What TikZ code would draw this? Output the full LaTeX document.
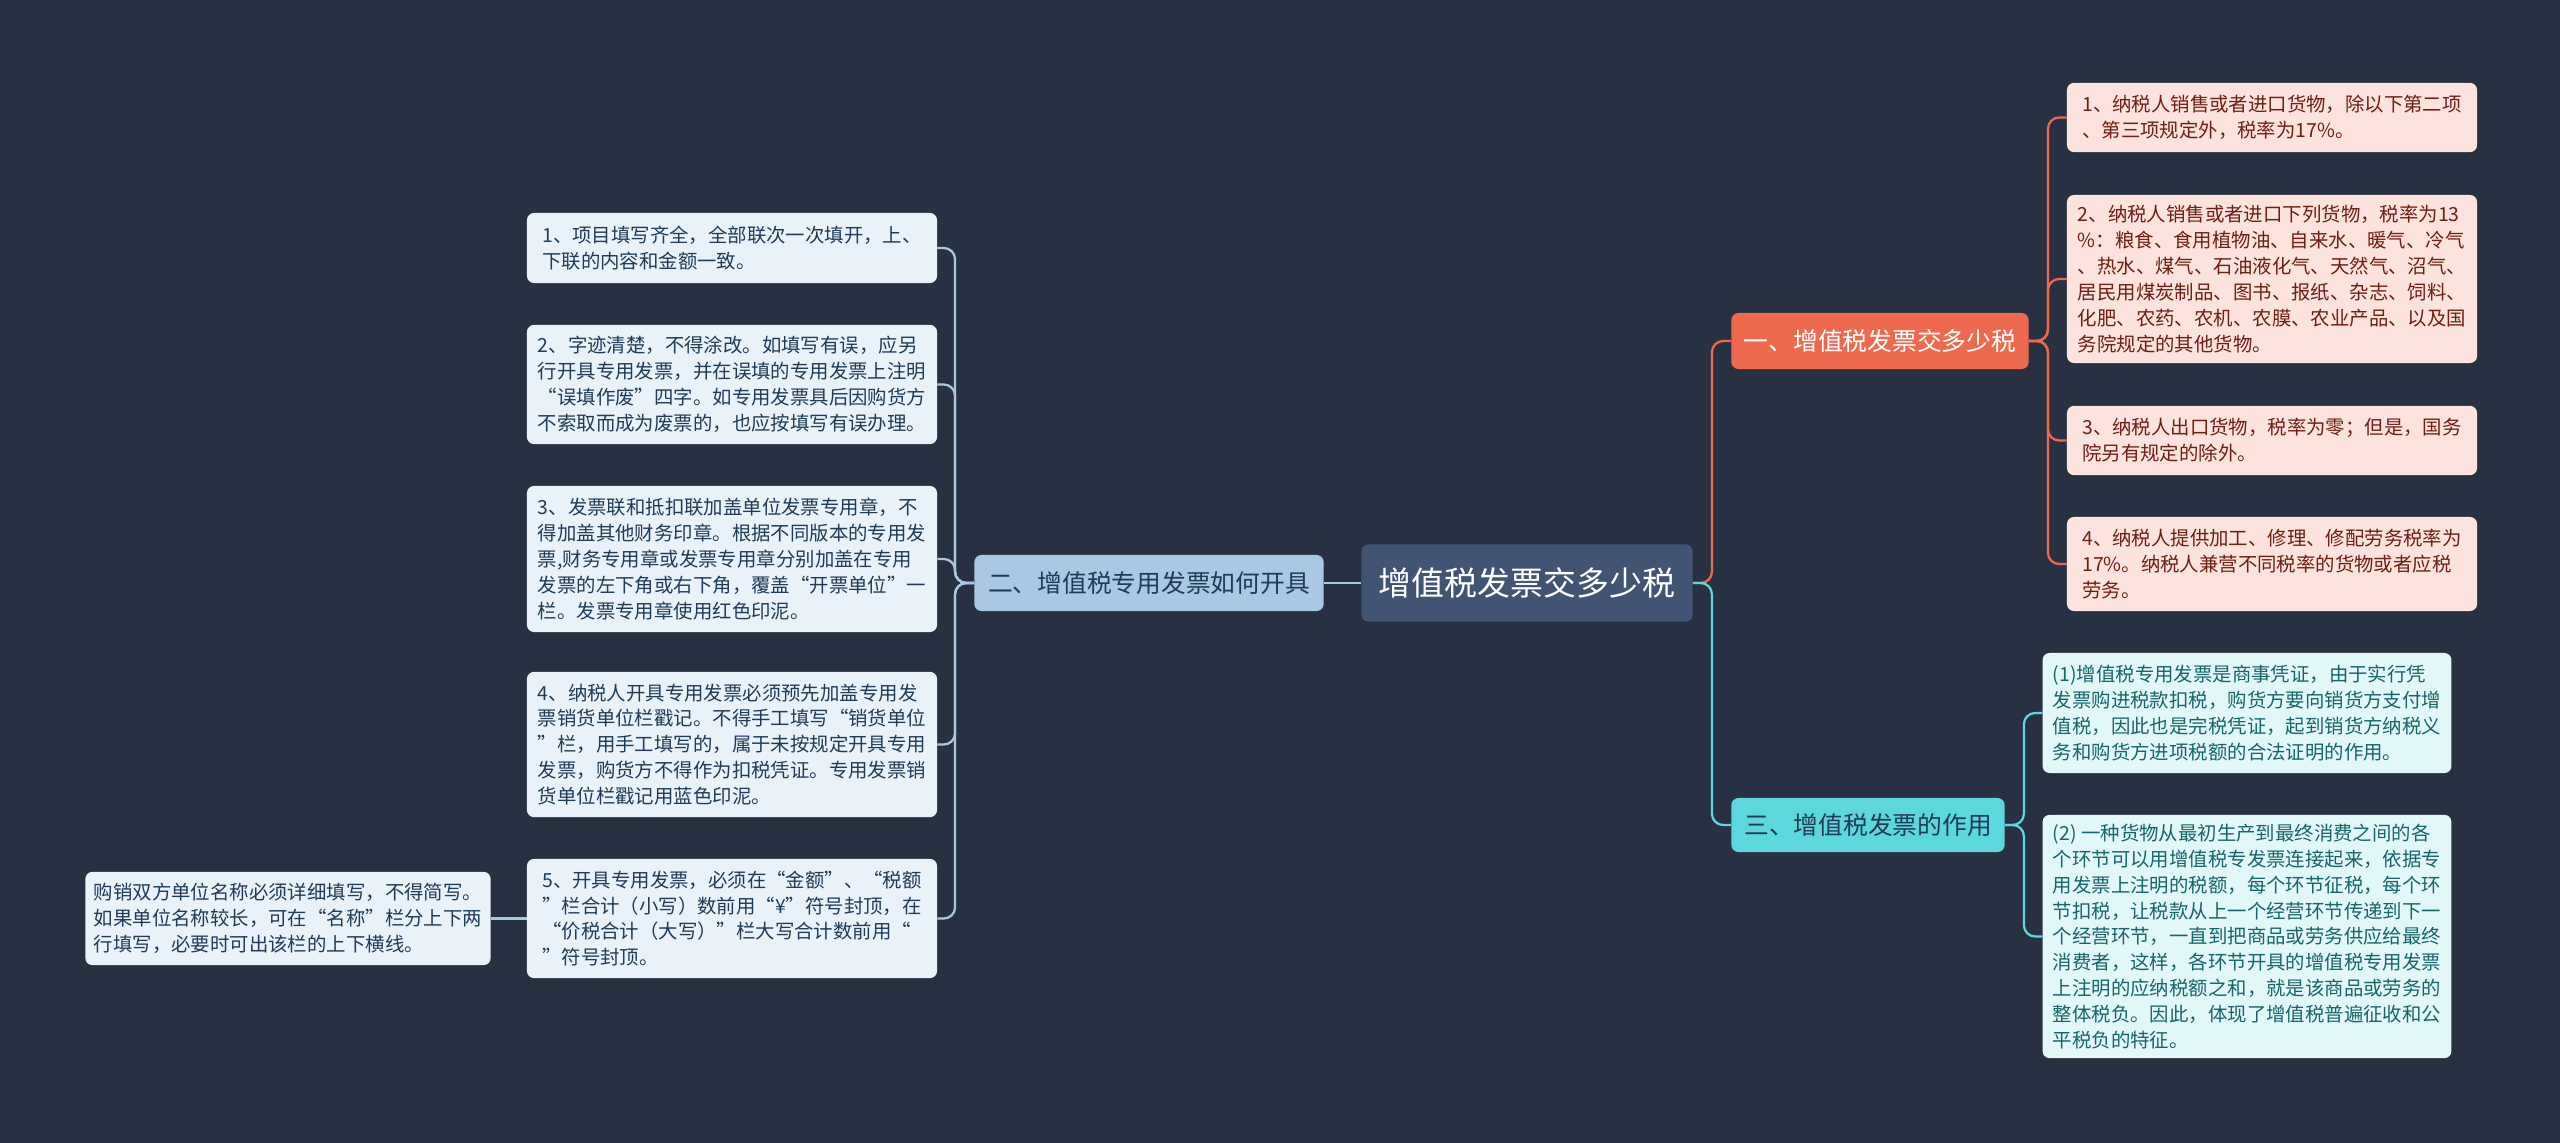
\documentclass[tikz,border=0pt]{standalone}
\usepackage{fontspec}
\setmainfont{Noto Sans CJK SC}
\usetikzlibrary{positioning}

\definecolor{bgdark}{HTML}{283142}
\definecolor{rootblue}{HTML}{415474}
\definecolor{coral}{HTML}{EE6A4F}
\definecolor{aqua}{HTML}{5CD7DE}
\definecolor{skyblue}{HTML}{A8C8E4}
\definecolor{pinkfill}{HTML}{FDE3DD}
\definecolor{pinktext}{HTML}{6E1E12}
\definecolor{aquafill}{HTML}{E2F7F8}
\definecolor{aquatext}{HTML}{17656A}
\definecolor{paleblue}{HTML}{EAF2F9}
\definecolor{bluetext}{HTML}{1F3B57}

\begin{document}
\begin{tikzpicture}[x=0.025cm, y=-0.025cm,
    box/.style = {rounded corners=5pt, align=left, inner xsep=0.2cm, inner ysep=0pt,
                  font=\fontsize{13.8pt}{18.4pt}\selectfont},
    redleaf/.style  = {box, fill=pinkfill, text=pinktext, minimum width=10.25cm},
    aqualeaf/.style = {box, fill=aquafill, text=aquatext, minimum width=10.22cm},
    blueleaf/.style = {box, fill=paleblue, text=bluetext, minimum width=10.25cm},
    topic/.style = {rounded corners=5pt, inner sep=0pt, font=\fontsize{17.6pt}{20pt}\selectfont},
    link/.style = {line width=1.6pt, rounded corners=8pt}]
    \fill[bgdark] (0,0) rectangle (2560,1143);
    \useasboundingbox (0,0) rectangle (2560,1143);

    % centre and main topics
    \node[topic, fill=rootblue, text=white, minimum width=8.28cm, minimum height=1.93cm,
          font=\fontsize{23.4pt}{26pt}\selectfont] (m_0) at (1527,583) {增值税发票交多少税};
    \node[topic, fill=coral, text=white, minimum width=7.43cm, minimum height=1.4cm]
          (k_1) at (1880,341) {一、增值税发票交多少税};
    \node[topic, fill=aqua, text=bluetext, minimum width=6.83cm, minimum height=1.35cm]
          (k_3) at (1868,825) {三、增值税发票的作用};
    \node[topic, fill=skyblue, text=bluetext, minimum width=8.73cm, minimum height=1.4cm]
          (k_2) at (1149,583) {二、增值税专用发票如何开具};

    % right, first topic
    \node[redleaf, minimum height=1.73cm] (r_1) at (2272,117.5)
        {1、纳税人销售或者进口货物，除以下第二项\\、第三项规定外，税率为17\%。};
    \node[redleaf, minimum height=4.2cm] (r_2) at (2272,279)
        {2、纳税人销售或者进口下列货物，税率为13\\\%：粮食、食用植物油、自来水、暖气、冷气\\、热水、煤气、石油液化气、天然气、沼气、\\居民用煤炭制品、图书、报纸、杂志、饲料、\\化肥、农药、农机、农膜、农业产品、以及国\\务院规定的其他货物。};
    \node[redleaf, minimum height=1.73cm] (r_3) at (2272,440.5)
        {3、纳税人出口货物，税率为零；但是，国务\\院另有规定的除外。};
    \node[redleaf, minimum height=2.35cm] (r_4) at (2272,564)
        {4、纳税人提供加工、修理、修配劳务税率为\\17\%。纳税人兼营不同税率的货物或者应税\\劳务。};

    % right, third topic
    \node[aqualeaf, minimum height=3cm] (c_1) at (2247,713)
        {(1)增值税专用发票是商事凭证，由于实行凭\\发票购进税款扣税，购货方要向销货方支付增\\值税，因此也是完税凭证，起到销货方纳税义\\务和购货方进项税额的合法证明的作用。};
    \node[aqualeaf, minimum height=6.08cm] (c_2) at (2247,936.5)
        {(2) 一种货物从最初生产到最终消费之间的各\\个环节可以用增值税专发票连接起来，依据专\\用发票上注明的税额，每个环节征税，每个环\\节扣税，让税款从上一个经营环节传递到下一\\个经营环节，一直到把商品或劳务供应给最终\\消费者，这样，各环节开具的增值税专用发票\\上注明的应纳税额之和，就是该商品或劳务的\\整体税负。因此，体现了增值税普遍征收和公\\平税负的特征。};

    % left, second topic
    \node[blueleaf, minimum height=1.75cm] (l_1) at (732,248)
        {1、项目填写齐全，全部联次一次填开，上、\\下联的内容和金额一致。};
    \node[blueleaf, minimum height=2.98cm] (l_2) at (732,384.5)
        {2、字迹清楚，不得涂改。如填写有误，应另\\行开具专用发票，并在误填的专用发票上注明\\“误填作废”四字。如专用发票具后因购货方\\不索取而成为废票的，也应按填写有误办理。};
    \node[blueleaf, minimum height=3.65cm] (l_3) at (732,559)
        {3、发票联和抵扣联加盖单位发票专用章，不\\得加盖其他财务印章。根据不同版本的专用发\\票,财务专用章或发票专用章分别加盖在专用\\发票的左下角或右下角，覆盖“开票单位”一\\栏。发票专用章使用红色印泥。};
    \node[blueleaf, minimum height=3.63cm] (l_4) at (732,744.5)
        {4、纳税人开具专用发票必须预先加盖专用发\\票销货单位栏戳记。不得手工填写“销货单位\\”栏，用手工填写的，属于未按规定开具专用\\发票，购货方不得作为扣税凭证。专用发票销\\货单位栏戳记用蓝色印泥。};
    \node[blueleaf, minimum height=2.98cm] (l_5) at (732,918.5)
        {5、开具专用发票，必须在“金额”、“税额\\”栏合计（小写）数前用“¥”符号封顶，在\\“价税合计（大写）”栏大写合计数前用“\\”符号封顶。};
    \node[blueleaf, minimum width=10.13cm, minimum height=2.33cm] (l_6) at (288,918.5)
        {购销双方单位名称必须详细填写，不得简写。\\如果单位名称较长，可在“名称”栏分上下两\\行填写，必要时可出该栏的上下横线。};

    % connectors
    \draw[link, coral] (m_0.east) -- ++(19,0) |- (k_1.west);
    \draw[link, aqua]  (m_0.east) -- ++(19,0) |- (k_3.west);
    \draw[link, skyblue] (m_0.west) -- (k_2.east);

    \draw[link, coral] (k_1.east) -- ++(19,0) |- (r_1.west);
    \draw[link, coral] (k_1.east) -- ++(19,0) |- (r_2.west);
    \draw[link, coral] (k_1.east) -- ++(19,0) |- (r_3.west);
    \draw[link, coral] (k_1.east) -- ++(19,0) |- (r_4.west);

    \draw[link, aqua] (k_3.east) -- ++(19,0) |- (c_1.west);
    \draw[link, aqua] (k_3.east) -- ++(19,0) |- (c_2.west);

    \draw[link, skyblue] (k_2.west) -- ++(-19,0) |- (l_1.east);
    \draw[link, skyblue] (k_2.west) -- ++(-19,0) |- (l_2.east);
    \draw[link, skyblue] (k_2.west) -- ++(-19,0) |- (l_3.east);
    \draw[link, skyblue] (k_2.west) -- ++(-19,0) |- (l_4.east);
    \draw[link, skyblue] (k_2.west) -- ++(-19,0) |- (l_5.east);
    \draw[link, skyblue] (l_5.west) -- (l_6.east);
\end{tikzpicture}
\end{document}
